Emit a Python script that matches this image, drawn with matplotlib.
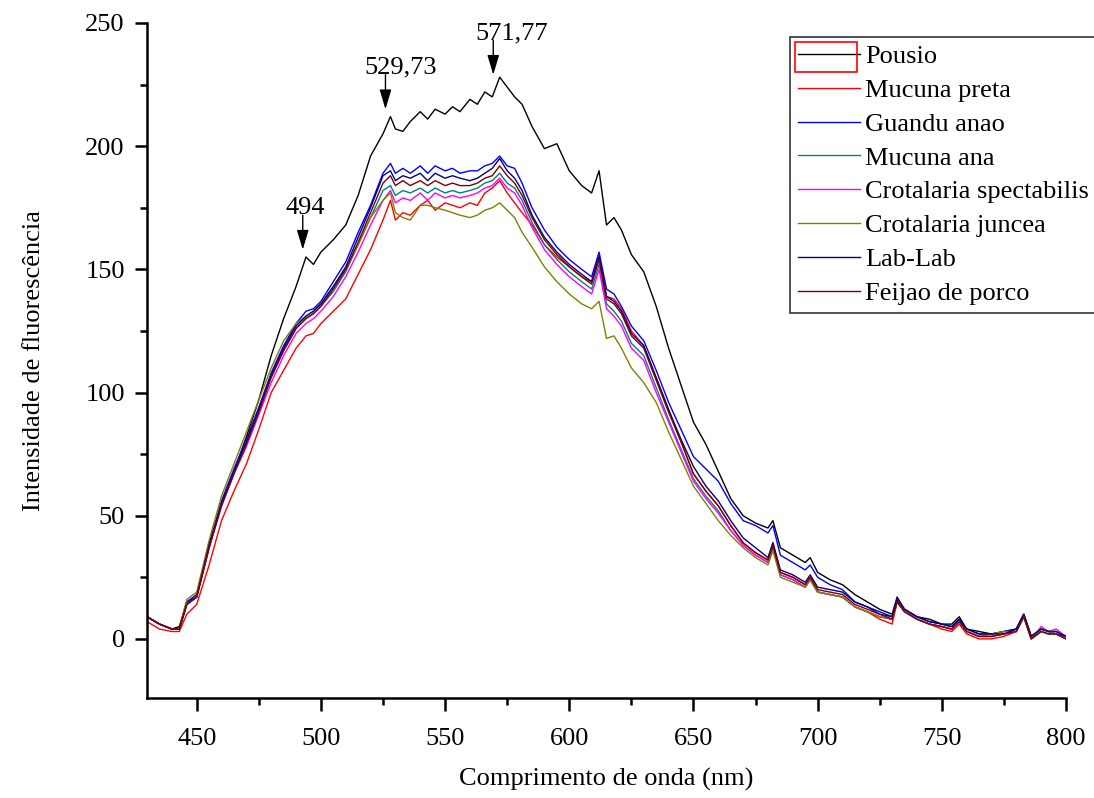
import matplotlib
matplotlib.use("Agg")
import matplotlib.pyplot as plt
from matplotlib.patches import Rectangle

# wavelength grid (nm)
wavelength = [
    430, 435, 440, 443, 446, 450, 455, 460, 465, 470,
    475, 480, 485, 490, 494, 497, 500, 505, 510, 515,
    520, 525, 528, 530, 533, 536, 540, 543, 546, 550,
    553, 556, 560, 563, 566, 569, 572, 575, 578, 581,
    585, 590, 595, 600, 605, 609, 612, 615, 618, 621,
    625, 630, 635, 640, 645, 650, 655, 660, 665, 670,
    675, 680, 682, 685, 690, 695, 697, 700, 705, 710,
    715, 720, 725, 730, 732, 735, 740, 745, 750, 754,
    757, 760, 765, 770, 775, 780, 783, 786, 790, 793,
    796, 800,
]

pousio = [
    9, 6, 4, 5, 15, 17, 37, 55, 68, 82,
    97, 115, 130, 143, 155, 152, 157, 162, 168, 180,
    196, 205, 212, 207, 206, 210, 214, 211, 215, 213,
    216, 214, 219, 217, 222, 220, 228, 224, 220, 217,
    208, 199, 201, 190, 184, 181, 190, 168, 171, 166,
    156, 149, 135, 118, 103, 88, 79, 68, 57, 50,
    47, 45, 48, 37, 34, 31, 33, 27, 24, 22,
    18, 15, 12, 10, 17, 12, 9, 8, 6, 6,
    9, 4, 3, 2, 3, 4, 10, 1, 4, 3,
    2, 1,
]

mucuna_preta = [
    7, 4, 3, 3, 10, 14, 30, 48, 60, 71,
    85, 100, 109, 118, 123, 124, 128, 133, 138, 148,
    158, 170, 178, 170, 173, 172, 176, 178, 174, 177,
    176, 175, 177, 176, 181, 183, 186, 181, 177, 173,
    168, 160, 155, 151, 147, 145, 156, 139, 138, 134,
    125, 119, 106, 93, 80, 67, 60, 54, 46, 39,
    35, 32, 39, 27, 25, 22, 25, 19, 18, 17,
    13, 11, 8, 6, 15, 11, 8, 6, 4, 3,
    6, 2, 0, 0, 1, 3, 9, 0, 3, 2,
    2, 0,
]

guandu_anao = [
    9, 6, 4, 4, 15, 18, 38, 56, 69, 81,
    94, 108, 119, 128, 133, 134, 137, 145, 153, 165,
    176, 189, 193, 189, 191, 189, 192, 189, 192, 190,
    191, 189, 190, 190, 192, 193, 196, 192, 191, 185,
    175, 166, 159, 154, 150, 147, 157, 142, 140, 135,
    127, 121, 109, 96, 85, 74, 69, 64, 55, 48,
    46, 43, 46, 34, 31, 28, 30, 25, 22, 20,
    15, 13, 11, 9, 16, 12, 9, 7, 6, 5,
    8, 4, 2, 2, 3, 4, 10, 1, 4, 3,
    3, 1,
]

mucuna_ana = [
    9, 6, 4, 4, 14, 17, 38, 55, 68, 80,
    93, 107, 117, 126, 130, 132, 135, 141, 149, 160,
    171, 182, 184, 180, 182, 181, 183, 181, 183, 181,
    182, 181, 182, 183, 185, 186, 189, 185, 183, 178,
    169, 160, 154, 149, 145, 142, 152, 136, 133, 129,
    120, 115, 102, 89, 77, 65, 58, 52, 44, 38,
    34, 31, 37, 26, 24, 21, 24, 19, 18, 17,
    13, 11, 9, 8, 15, 11, 8, 6, 5, 4,
    7, 3, 1, 1, 2, 3, 9, 0, 3, 2,
    2, 0,
]

crotalaria_spectabilis = [
    9, 6, 4, 4, 14, 17, 37, 54, 67, 78,
    91, 104, 115, 124, 128, 130, 133, 139, 147, 157,
    168, 178, 182, 177, 179, 178, 181, 178, 181, 179,
    180, 179, 180, 181, 183, 184, 187, 183, 181, 176,
    167, 158, 152, 147, 143, 140, 150, 134, 131, 127,
    118, 113, 100, 88, 76, 64, 57, 51, 44, 38,
    34, 31, 36, 26, 24, 21, 24, 19, 18, 17,
    13, 11, 9, 8, 16, 12, 8, 6, 5, 4,
    7, 3, 1, 1, 2, 3, 9, 0, 5, 3,
    4, 1,
]

crotalaria_juncea = [
    9, 6, 4, 4, 16, 19, 40, 58, 71, 84,
    97, 110, 121, 128, 131, 133, 136, 143, 150, 160,
    171, 178, 181, 173, 171, 170, 176, 176, 175, 174,
    173, 172, 171, 172, 174, 175, 177, 174, 171, 165,
    159, 151, 145, 140, 136, 134, 137, 122, 123, 118,
    110, 104, 96, 84, 73, 62, 55, 48, 42, 37,
    33, 30, 36, 25, 23, 21, 24, 19, 18, 17,
    13, 11, 9, 8, 15, 11, 8, 6, 5, 4,
    7, 3, 1, 2, 3, 3, 9, 0, 4, 3,
    2, 0,
]

lab_lab = [
    9, 6, 4, 4, 14, 17, 38, 55, 68, 80,
    93, 107, 118, 127, 131, 133, 136, 143, 151, 163,
    175, 188, 190, 186, 188, 187, 189, 186, 189, 187,
    188, 187, 186, 187, 189, 191, 195, 190, 187, 182,
    172, 163, 157, 152, 148, 145, 155, 139, 137, 133,
    124, 119, 106, 93, 81, 70, 62, 56, 48, 41,
    37, 33, 39, 28, 26, 23, 26, 21, 20, 19,
    15, 13, 10, 9, 16, 12, 9, 7, 6, 5,
    8, 4, 2, 2, 2, 4, 10, 1, 4, 3,
    3, 1,
]

feijao_de_porco = [
    9, 6, 4, 4, 14, 17, 37, 54, 67, 79,
    92, 106, 117, 126, 130, 132, 135, 142, 150, 161,
    173, 185, 188, 184, 186, 184, 186, 184, 186, 184,
    185, 184, 184, 185, 187, 188, 192, 188, 185, 180,
    171, 162, 156, 151, 147, 144, 154, 138, 136, 132,
    123, 118, 105, 92, 80, 67, 60, 54, 46, 39,
    35, 32, 38, 27, 25, 22, 25, 20, 19, 18,
    14, 12, 10, 8, 15, 11, 8, 6, 5, 4,
    7, 3, 1, 1, 2, 3, 9, 0, 3, 2,
    2, 0,
]

series_names = ["Pousio", "Mucuna preta", "Guandu anao", "Mucuna ana",
                "Crotalaria spectabilis", "Crotalaria juncea", "Lab-Lab",
                "Feijao de porco"]
series_colors = ["#000000", "#ff0000", "#0000ff", "#008080",
                 "#ff00ff", "#808000", "#000080", "#800000"]

# peaks marked on the Pousio curve (arrow tip, label centre)
peak_labels = ["494", "529,73", "571,77"]
peak_x = [492.7, 526.0, 569.4]
peak_y = [158, 215, 229]
label_x = [493.9, 532.0, 577.0]


def main():
    plt.rcParams["font.family"] = ["Liberation Serif", "DejaVu Serif"]
    fs = 19

    fig = plt.figure(figsize=(10.94, 7.98), dpi=100)
    ax = fig.add_axes([0.1344, 0.1253, 0.84, 0.8459])

    all_series = [pousio, mucuna_preta, guandu_anao, mucuna_ana,
                  crotalaria_spectabilis, crotalaria_juncea, lab_lab,
                  feijao_de_porco]
    for values, name, color in zip(all_series, series_names, series_colors):
        ax.plot(wavelength, values, color=color, lw=1.0, label=name)

    ax.set_xlim(430, 800)
    ax.set_ylim(-24, 250)
    ax.set_xticks(range(450, 801, 50))
    ax.set_xticks(range(475, 800, 50), minor=True)
    ax.set_yticks(range(0, 251, 50))
    ax.set_yticks(range(25, 250, 50), minor=True)

    for side in ["top", "right"]:
        ax.spines[side].set_visible(False)
    for side in ["left", "bottom"]:
        ax.spines[side].set_linewidth(1.8)
    ax.tick_params(which="major", direction="out", length=9, width=1.8,
                   labelsize=fs)
    ax.tick_params(axis="x", which="major", pad=12.5)
    ax.tick_params(axis="y", which="major", pad=7)
    ax.tick_params(which="minor", direction="out", length=5, width=1.8)

    ax.set_xlabel("Comprimento de onda (nm)", fontsize=fs, labelpad=13)
    ax.set_ylabel("Intensidade de fluorescência", fontsize=fs, labelpad=29)

    # arrows pointing to the peaks
    for label, px, py, lx in zip(peak_labels, peak_x, peak_y, label_x):
        ax.annotate("", xy=(px, py), xytext=(px, py + 14),
                    arrowprops=dict(arrowstyle="-|>,head_length=1.2,head_width=0.36",
                                    color="black", lw=1.0, mutation_scale=10,
                                    shrinkA=0, shrinkB=0))
        ax.text(lx, py + 14.5, label, ha="center", va="baseline", fontsize=fs)

    leg = ax.legend(loc="upper left", bbox_to_anchor=(790 / 1094, 1 - 37 / 798),
                    bbox_transform=fig.transFigure, borderaxespad=0,
                    fontsize=fs, frameon=True, fancybox=False, edgecolor="black",
                    handlelength=2.35, handletextpad=0.2, labelspacing=0.39,
                    borderpad=0.3)
    leg.get_frame().set_linewidth(1.2)

    # red selection box around the first legend entry
    fig.patches.append(Rectangle((795 / 1094, 1 - 72 / 798), 62 / 1094, 30 / 798,
                                 transform=fig.transFigure, fill=False,
                                 edgecolor="red", lw=1.2))

    fig.savefig("out.png", dpi=100)


if __name__ == "__main__":
    main()
